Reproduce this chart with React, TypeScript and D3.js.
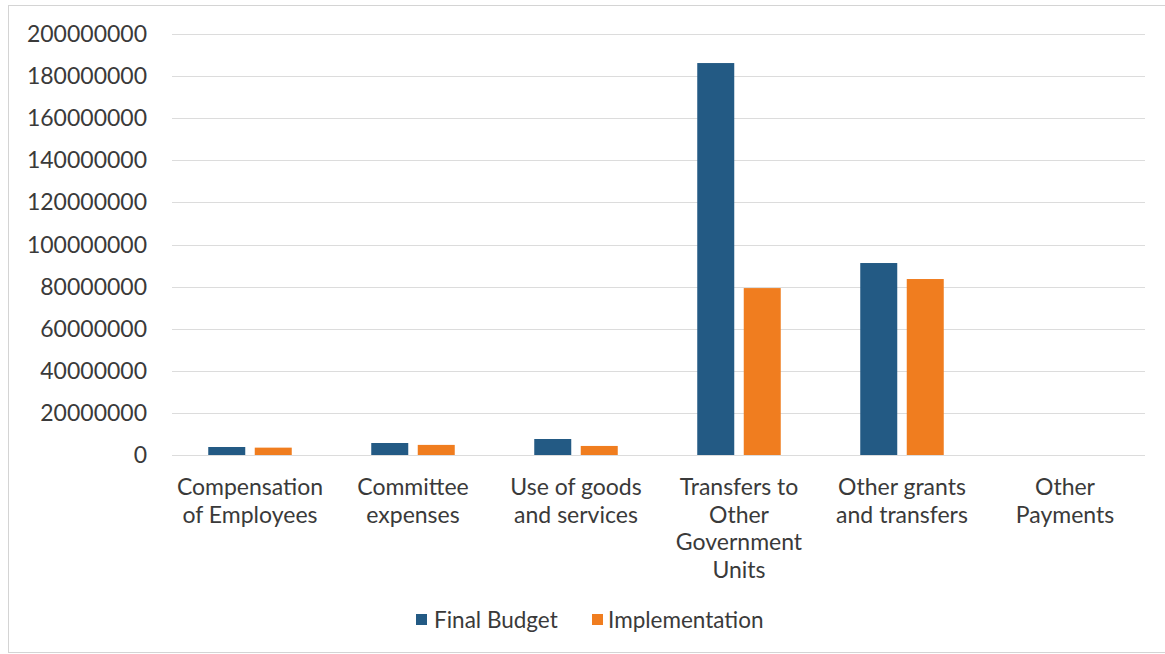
import React from "react";
import * as d3 from "d3";

const categories: string[][] = [
  ["Compensation", "of Employees"],
  ["Committee", "expenses"],
  ["Use of goods", "and services"],
  ["Transfers to", "Other", "Government", "Units"],
  ["Other grants", "and transfers"],
  ["Other", "Payments"],
];
const finalBudget = [3800000, 5700000, 7600000, 186200000, 91200000, 0];
const implementation = [3500000, 4800000, 4300000, 79300000, 83600000, 0];
const yTicks = [0, 20000000, 40000000, 60000000, 80000000, 100000000, 120000000, 140000000, 160000000, 180000000, 200000000];
const seriesNames = ["Final Budget", "Implementation"];
const colors = ["#235a84", "#f07d1f"];

const W = 1165;
const H = 654;
const FONT = "Lato, 'Open Sans', sans-serif";

export default function App() {
  const x = d3.scaleBand<number>().domain(d3.range(categories.length)).range([168.5, 1146.5]);
  const y = d3.scaleLinear().domain([0, 200000000]).range([455, 34]);
  const barW = 37;
  const gap = 9.5;
  const series = [finalBudget, implementation];

  return (
    <svg width={W} height={H} style={{ position: "absolute", left: 0, top: 0, background: "#fff" }}>
      <rect x={8.5} y={5.5} width={W} height={647} fill="#fff" stroke="#d4d4d4" strokeWidth={1} />
      {yTicks.map((t) => (
        <g key={t}>
          <line x1={172} x2={1145} y1={Math.round(y(t)) + 0.5} y2={Math.round(y(t)) + 0.5} stroke="#dcdcdc" strokeWidth={1} />
          <text x={147} y={y(t) + 8} textAnchor="end" fontFamily={FONT} fontSize={23} fill="#3a3a3a">
            {t}
          </text>
        </g>
      ))}
      {series.map((vals, si) =>
        vals.map((v, i) => {
          const cx = (x(i) as number) + x.bandwidth() / 2;
          const bx = si === 0 ? cx - gap / 2 - barW : cx + gap / 2;
          return v > 0 ? (
            <rect key={`${si}-${i}`} x={bx} y={y(v)} width={barW} height={y(0) - y(v)} fill={colors[si]} />
          ) : null;
        })
      )}
      {categories.map((lines, i) => {
        const cx = (x(i) as number) + x.bandwidth() / 2;
        return (
          <text key={i} textAnchor="middle" fontFamily={FONT} fontSize={23} fill="#3a3a3a">
            {lines.map((l, li) => (
              <tspan key={li} x={cx} y={495 + li * 27.7}>
                {l}
              </tspan>
            ))}
          </text>
        );
      })}
      <g>
        <rect x={416} y={614} width={11} height={11} fill={colors[0]} />
        <text x={434} y={628} fontFamily={FONT} fontSize={22.5} fill="#3a3a3a">{seriesNames[0]}</text>
        <rect x={592} y={614} width={11} height={11} fill={colors[1]} />
        <text x={608} y={628} fontFamily={FONT} fontSize={22.5} fill="#3a3a3a">{seriesNames[1]}</text>
      </g>
    </svg>
  );
}
